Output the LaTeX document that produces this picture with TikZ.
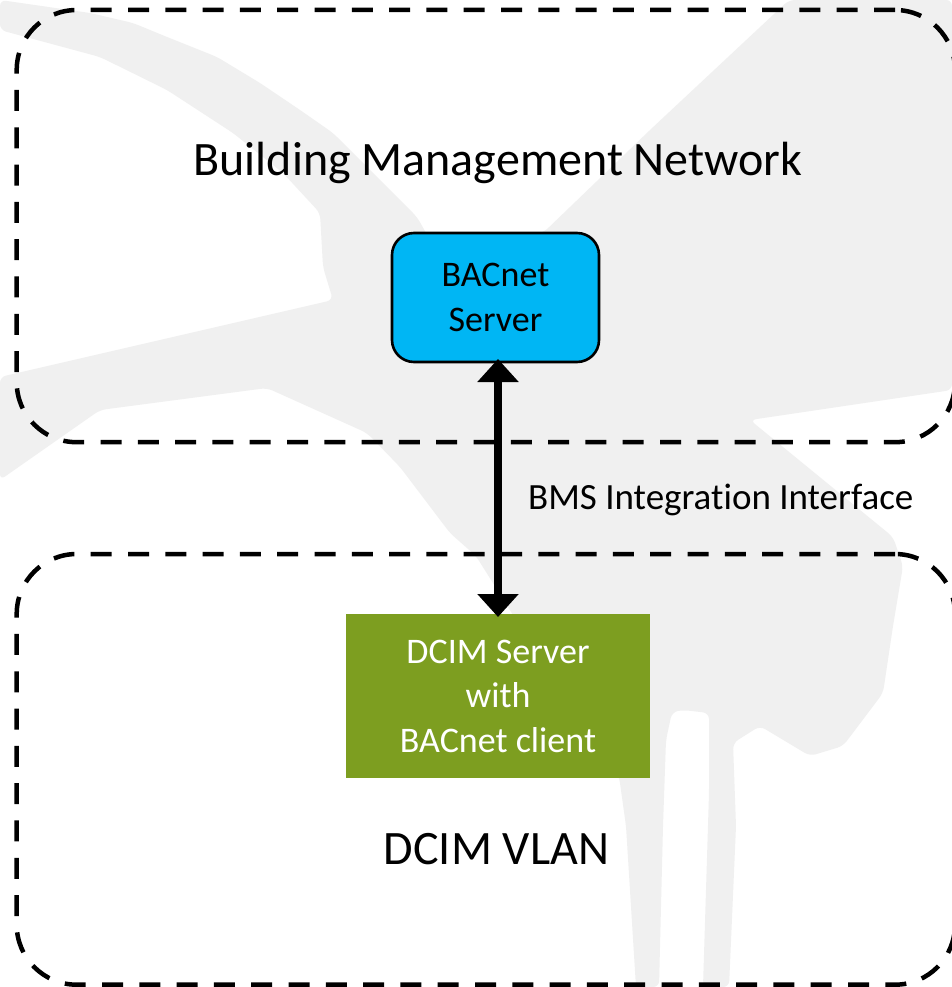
\documentclass[tikz,border=0pt]{standalone}
\usepackage{fontspec}
\setmainfont{Carlito}[Ligatures={NoCommon}]
\usetikzlibrary{arrows.meta}
\definecolor{wm}{HTML}{F0F0F0}
\definecolor{bacblue}{HTML}{00B6F4}
\definecolor{dcimgreen}{HTML}{7D9E20}
\begin{document}
\begin{tikzpicture}[x=1pt,y=-1pt,
  zone/.style={draw=black, line width=4.5pt, dash pattern=on 21pt off 16.3pt,
    rounded corners=60pt, inner sep=0pt, outer sep=0pt},
  bacbox/.style={draw=black, line width=2.6pt, fill=bacblue, rounded corners=22pt,
    minimum width=207pt, minimum height=129pt, align=center,
    font=\fontsize{36}{44.5}\selectfont, inner sep=0pt, outer sep=0pt},
  dcimbox/.style={fill=dcimgreen, text=white, minimum width=304pt, minimum height=164pt,
    align=center, font=\fontsize{36}{44.5}\selectfont, inner sep=0pt, outer sep=0pt},
  biglabel/.style={font=\fontsize{48}{58}\selectfont, anchor=base, inner sep=0pt},
  smalllabel/.style={font=\fontsize{37}{44}\selectfont, anchor=base west, inner sep=0pt},
  link/.style={line width=8.5pt, {Triangle[width=40pt,length=23pt]}-{Triangle[width=40pt,length=23pt]},
    shorten <=-3pt, shorten >=-3pt}
]
\useasboundingbox (0,0) rectangle (952,987);
\fill[white] (0,0) rectangle (952,987);
% watermark silhouette
\fill[wm, rounded corners=6pt] (789,0) -- (952,0) -- (952,390) -- (750,420) -- (893,537) -- (903,566)
  -- (893,626) -- (883,693) -- (843,746) -- (810,756) -- (760,726) -- (733,743) -- (736,826)
  -- (729,987) -- (703,987) -- (709,793) -- (709,713) -- (683,710) -- (672,712) -- (666,740)
  -- (663,826) -- (659,987) -- (636,987) -- (626,826) -- (619,776) -- (560,690) -- (476,556)
  -- (450,533) -- (400,467) -- (367,433) -- (267,388) -- (100,410) -- (0,480) -- (0,377)
  -- (333,300) -- (323,267) -- (320,213) -- (283,173) -- (233,133) -- (167,90) -- (100,57)
  -- (0,30) -- (0,0) -- (90,13) -- (133,23) -- (167,37) -- (217,57) -- (260,83) -- (300,110)
  -- (333,133) -- (367,167) -- (417,217) -- (430,240) -- (543,233) -- (650,130) -- cycle;
% zones
\node[zone, minimum width=938.3pt, minimum height=432.2pt] (bmn) at (485.85,226.1) {};
\node[zone, minimum width=938.3pt, minimum height=430.7pt] (vlanzone) at (485.85,769.35) {};
% labels
\node[biglabel] (bmnlabel) at (498,176) {Building Management Network};
\node[biglabel] (vlanlabel) at (496.5,864) {DCIM VLAN};
% boxes
\node[bacbox] (bac) at (495.5,297.5) {BACnet\\Server};
\node[dcimbox] (dcim) at (498,696) {DCIM Server\\with\\BACnet client};
% connector
\draw[link] (bac.south -| dcim.north) -- (dcim.north);
\node[smalllabel] (bms) at (528,509) {BMS Integration Interface};
\end{tikzpicture}
\end{document}
